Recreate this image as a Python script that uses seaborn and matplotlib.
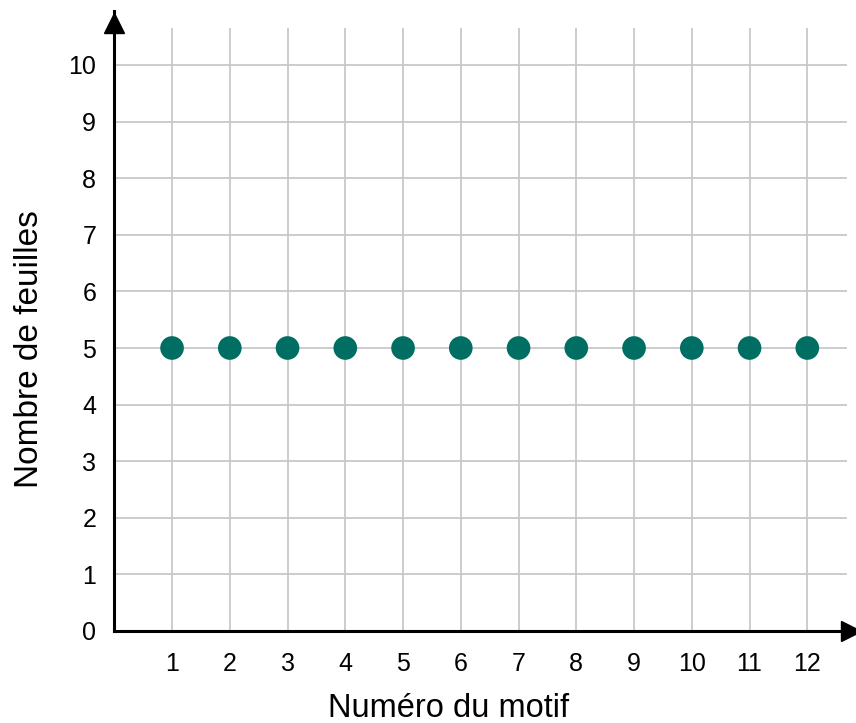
import matplotlib
matplotlib.use("Agg")
import matplotlib.pyplot as plt
import seaborn as sns
import pandas as pd

# data
motif = [1, 2, 3, 4, 5, 6, 7, 8, 9, 10, 11, 12]
feuilles = [5, 5, 5, 5, 5, 5, 5, 5, 5, 5, 5, 5]
x_ticks = list(range(1, 13))
y_ticks = list(range(0, 11))
x_label = "Numéro du motif"
y_label = "Nombre de feuilles"

sns.set_style("white")
plt.rcParams["font.family"] = ["Liberation Sans", "DejaVu Sans"]

df = pd.DataFrame({"motif": motif, "feuilles": feuilles})

fig = plt.figure(figsize=(8.56, 7.23), dpi=100)
W, H = 856, 723
x0, y0 = 114.3, 631.0
ux, uy = 57.75, 56.6
xmax = (W - x0) / ux
ymax = 10.95
ax = fig.add_axes([x0 / W, (H - y0) / H, (W - x0) / W, ymax * uy / H])
ax.set_xlim(0, xmax)
ax.set_ylim(0, ymax)

grid_col = "#c8c8c8"
ax.vlines(x_ticks, 0, 10.65, color=grid_col, lw=1.3, zorder=1)
ax.hlines(y_ticks[1:], 0, 12.68, color=grid_col, lw=1.3, zorder=1)

sns.scatterplot(data=df, x="motif", y="feuilles", ax=ax, s=290,
                color="#006e63", edgecolor="none", zorder=3, clip_on=False)

for s in ["top", "right"]:
    ax.spines[s].set_visible(False)
for s in ["left", "bottom"]:
    ax.spines[s].set_linewidth(2.2)
    ax.spines[s].set_color("black")
    ax.spines[s].set_zorder(4)

# arrow heads
ax.plot(xmax - 0.08, 0, ">", color="black", ms=14, clip_on=False, zorder=5)
ax.plot(0, ymax - 0.2, "^", color="black", ms=14, clip_on=False, zorder=5)

ax.set_xticks(x_ticks)
ax.set_yticks(y_ticks)
ax.tick_params(length=0, labelsize=18, pad=15, colors="black")
ax.tick_params(axis="y", pad=13)

ax.set_xlabel(x_label, fontsize=23.5, color="black")
ax.set_ylabel(y_label, fontsize=24, color="black")
ax.xaxis.set_label_coords(0.45, -0.1)
ax.yaxis.set_label_coords(-0.094, 0.455)

fig.savefig("out.png", dpi=100)
